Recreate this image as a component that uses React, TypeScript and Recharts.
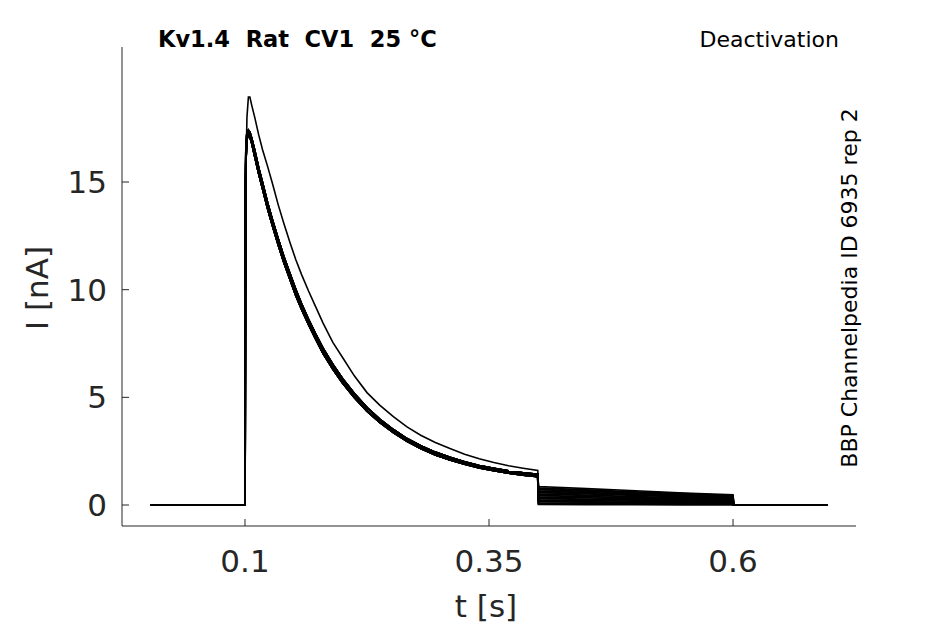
import { LineChart, Line, XAxis, YAxis, ReferenceLine } from "recharts";

// time points (s)
const tPre = [0.003, 0.1];
const tAct = [
  0.1003, 0.1006, 0.101, 0.102, 0.1035, 0.105, 0.107, 0.11, 0.114, 0.118, 0.123, 0.128,
  0.134, 0.14, 0.146, 0.152, 0.158, 0.165, 0.172, 0.18, 0.19, 0.2, 0.212, 0.225, 0.238,
  0.252, 0.266, 0.28, 0.295, 0.31, 0.325, 0.34, 0.355, 0.37, 0.385, 0.4,
];
const tTail = [0.4006, 0.45, 0.5, 0.55, 0.6];
const tPost = [0.6006, 0.697];

// current during the 0.1 - 0.4 s step (nA)
const upperAct = [
  7, 12, 15.5, 18.0, 18.95, 18.95, 18.55, 18.0, 17.2, 16.5, 15.75, 14.95,
  13.95, 13.05, 12.2, 11.4, 10.7, 9.95, 9.25, 8.45, 7.55, 6.85, 6.0, 5.22, 4.64,
  4.1, 3.63, 3.24, 2.9, 2.62, 2.36, 2.15, 1.97, 1.82, 1.71, 1.61,
];
const bundleHiAct = [
  9.5, 15, 16.5, 17.25, 17.4, 17.3, 17.0, 16.45, 15.65, 14.95, 14.05, 13.25,
  12.35, 11.5, 10.75, 10.0, 9.33, 8.62, 7.97, 7.27, 6.52, 5.86, 5.17, 4.52, 3.98,
  3.5, 3.08, 2.75, 2.45, 2.21, 2.0, 1.83, 1.7, 1.58, 1.49, 1.42,
];
const bundleLoAct = [
  8.5, 14, 16.1, 17.0, 17.2, 17.1, 16.8, 16.2, 15.4, 14.7, 13.8, 13.0,
  12.1, 11.25, 10.5, 9.75, 9.1, 8.4, 7.75, 7.05, 6.32, 5.67, 5.0, 4.36, 3.84,
  3.37, 2.96, 2.63, 2.33, 2.1, 1.9, 1.73, 1.6, 1.48, 1.39, 1.32,
];

// current during the 0.4 - 0.6 s deactivation steps (nA)
const tailValues = [
  [0.86, 0.76, 0.66, 0.56, 0.47],
  [0.79, 0.7, 0.61, 0.52, 0.43],
  [0.72, 0.64, 0.56, 0.47, 0.39],
  [0.65, 0.58, 0.5, 0.43, 0.35],
  [0.58, 0.52, 0.45, 0.38, 0.31],
  [0.51, 0.45, 0.39, 0.33, 0.27],
  [0.44, 0.39, 0.34, 0.29, 0.24],
  [0.37, 0.33, 0.29, 0.24, 0.2],
  [0.3, 0.27, 0.23, 0.19, 0.16],
  [0.23, 0.2, 0.18, 0.15, 0.12],
  [0.16, 0.14, 0.12, 0.1, 0.08],
  [0.09, 0.08, 0.07, 0.06, 0.04],
  [0.03, 0.02, 0.02, 0.01, 0.01],
];

const xTicks = [0.1, 0.35, 0.6];
const yTicks = [0, 5, 10, 15];

const xDomain = [-0.026, 0.726];
const yDomain = [-0.975, 21.27];

const times = [...tPre, ...tAct, ...tTail, ...tPost];
const traces = tailValues.map((tail, i) => {
  const act = i === 0 ? upperAct : i % 2 ? bundleHiAct : bundleLoAct;
  return [0, 0, ...act, ...tail, 0, 0];
});
const data = times.map((t, j) => {
  const row: Record<string, number> = { t };
  traces.forEach((tr, i) => (row[`s${i}`] = tr[j]));
  return row;
});

const axisColor = "#262626";
const font = "DejaVu Sans";
// inward tick length: 7px expressed in axis units
const xTickLen = 0.325; // in nA, for ticks on the x axis
const yTickLen = 0.0072; // in s, for ticks on the y axis

const XTick = ({ x, y, payload }: any) => (
  <text x={x} y={y + 22} textAnchor="middle" fill={axisColor} fontSize={31} fontFamily={font}>
    {String(payload.value)}
  </text>
);

const YTick = ({ x, y, payload }: any) => (
  <text x={x} y={y + 11} textAnchor="end" fill={axisColor} fontSize={31} fontFamily={font}>
    {String(payload.value)}
  </text>
);

export default function App() {
  return (
    <div style={{ position: "absolute", left: 0, top: 0, width: 945, height: 624, background: "#fff" }}>
      <LineChart width={945} height={624} data={data} margin={{ top: 47, right: 89, left: 0, bottom: 0 }}>
        <XAxis
          dataKey="t"
          type="number"
          domain={xDomain}
          ticks={xTicks}
          height={98}
          allowDataOverflow
          tickLine={false}
          tickSize={0}
          tickMargin={24}
          stroke={axisColor}
          tick={<XTick />}
        />
        <YAxis
          type="number"
          domain={yDomain}
          ticks={yTicks}
          width={122}
          allowDataOverflow
          tickLine={false}
          tickSize={0}
          tickMargin={15}
          stroke={axisColor}
          tick={<YTick />}
        />
        {xTicks.map((v) => (
          <ReferenceLine
            key={`xt${v}`}
            segment={[{ x: v, y: yDomain[0] }, { x: v, y: yDomain[0] + xTickLen }]}
            stroke={axisColor}
            strokeWidth={1}
          />
        ))}
        {yTicks.map((v) => (
          <ReferenceLine
            key={`yt${v}`}
            segment={[{ x: xDomain[0], y: v }, { x: xDomain[0] + yTickLen, y: v }]}
            stroke={axisColor}
            strokeWidth={1}
          />
        ))}
        {traces.map((_, i) => (
          <Line
            key={i}
            dataKey={`s${i}`}
            type="linear"
            stroke="#000"
            strokeWidth={i === 0 ? 1.6 : 1.9}
            dot={false}
            isAnimationActive={false}
          />
        ))}
      </LineChart>
      <svg width={945} height={624} style={{ position: "absolute", left: 0, top: 0, pointerEvents: "none" }}>
        <text x={158} y={47} fontFamily={font} fontWeight="bold" fontSize={22.5} fill="#000" style={{ whiteSpace: "pre" }}>
          {"Kv1.4  Rat  CV1  25 °C"}
        </text>
        <text x={839} y={47} fontFamily={font} fontSize={22} fill="#000" textAnchor="end">
          Deactivation
        </text>
        <text x={857} y={288} fontFamily={font} fontSize={22} fill="#000" textAnchor="middle" transform="rotate(-90 857 288)">
          BBP Channelpedia ID 6935 rep 2
        </text>
        <text x={48} y={288} fontFamily={font} fontSize={31} fill={axisColor} textAnchor="middle" transform="rotate(-90 48 288)">
          I [nA]
        </text>
        <text x={486} y={617} fontFamily={font} fontSize={31} fill={axisColor} textAnchor="middle">
          t [s]
        </text>
      </svg>
    </div>
  );
}
